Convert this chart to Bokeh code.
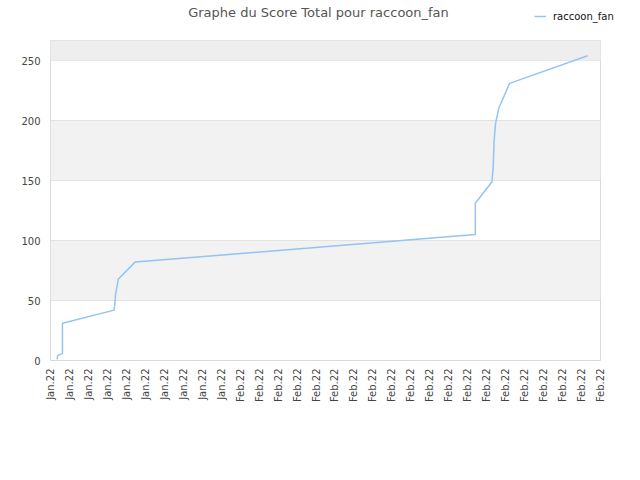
import pandas as pd
from bokeh.plotting import figure
from bokeh.layouts import column
from bokeh.models import (Range1d, FixedTicker, DatetimeTickFormatter, Label,
                          Legend, LegendItem, BoxAnnotation, ColumnDataSource)
from bokeh.embed import file_html
from bokeh.resources import INLINE

# ---- data ----
title_text = "Graphe du Score Total pour raccoon_fan"
series_name = "raccoon_fan"
times = [
    "2022-01-22 08:24", "2022-01-22 09:07", "2022-01-22 15:07", "2022-01-22 15:07",
    "2022-01-25 08:38", "2022-01-25 10:19", "2022-01-25 13:55", "2022-01-26 11:02",
    "2022-02-13 09:36", "2022-02-13 09:36", "2022-02-14 06:43", "2022-02-14 08:10",
    "2022-02-14 09:22", "2022-02-14 11:02", "2022-02-14 15:07", "2022-02-15 05:02",
    "2022-02-19 07:41",
]
scores = [1, 4, 6, 31, 42, 55, 68, 82, 105, 131, 149, 161, 183, 197, 210, 231, 254]
y_ticks = [0, 50, 100, 150, 200, 250]
x_start = "2022-01-22"
x_end = "2022-02-20"
y_max = 266.7

LINE_COLOR = "#92c4f4"
HEAD_H = 40

x_tick_dates = pd.date_range(x_start, x_end, freq="D")
x_ticks = [int(d.value // 10**6) for d in x_tick_dates]

src = ColumnDataSource(dict(t=pd.to_datetime(times), s=scores))

# ---- header (title + legend) ----
head = figure(width=640, height=HEAD_H, output_backend="svg", toolbar_location=None,
              x_range=Range1d(0, 1), y_range=Range1d(0, 1),
              x_axis_location=None, y_axis_location=None,
              min_border_left=0, min_border_right=0, min_border_top=0,
              min_border_bottom=0)
head.outline_line_color = None
head.xgrid.visible = False
head.ygrid.visible = False
head.add_layout(Label(x=268, y=28, x_units="screen", y_units="screen", text=title_text,
                      text_align="center", text_baseline="middle",
                      text_font="DejaVu Sans", text_font_size="13px",
                      text_color="#555555"))
# legend swatch renderer: same series style, drawn off-screen in the header
legend_src = ColumnDataSource(dict(t=[5, 6], s=[5, 6]))
swatch = head.line("t", "s", source=legend_src, line_color=LINE_COLOR, line_width=1.5)
legend = Legend(items=[LegendItem(label=series_name, renderers=[swatch])],
                location=(484, 18), orientation="horizontal",
                glyph_width=12, glyph_height=12, label_height=12,
                label_standoff=7, padding=0, margin=0, spacing=0,
                border_line_color=None, background_fill_alpha=0,
                label_text_font="DejaVu Sans", label_text_font_size="10px",
                label_text_color="#111111")
head.add_layout(legend)

# ---- main chart ----
p = figure(width=624, height=424, output_backend="svg", toolbar_location=None,
           x_axis_type="datetime",
           x_range=Range1d(pd.Timestamp(x_start), pd.Timestamp(x_end)),
           y_range=Range1d(0, y_max),
           min_border_left=50, min_border_right=24, min_border_top=0,
           min_border_bottom=104)
p.background_fill_color = "white"
p.border_fill_color = "white"
p.outline_line_color = "#d9d9d9"

p.add_layout(BoxAnnotation(bottom=y_ticks[-1], fill_color="#eeeeee", fill_alpha=1,
                           line_color=None, level="underlay"))

p.xgrid.grid_line_color = None
p.ygrid.grid_line_color = "#e2e2e2"
p.ygrid.band_fill_color = "#f2f2f2"
p.ygrid.band_fill_alpha = 1
p.ygrid.ticker = FixedTicker(ticks=y_ticks)

p.line("t", "s", source=src, line_color=LINE_COLOR, line_width=1.5)

fmt = "%b.%y"
p.xaxis.formatter = DatetimeTickFormatter(
    microseconds=fmt, milliseconds=fmt, seconds=fmt, minsec=fmt, minutes=fmt,
    hourmin=fmt, hours=fmt, days=fmt, months=fmt, years=fmt)
p.xaxis.ticker = FixedTicker(ticks=x_ticks)
p.xaxis.major_label_orientation = 3.14159265 / 2
p.yaxis.ticker = FixedTicker(ticks=y_ticks)

for ax in (p.xaxis, p.yaxis):
    ax.axis_line_color = None
    ax.major_tick_line_color = None
    ax.minor_tick_line_color = None
    ax.major_tick_out = 0
    ax.major_tick_in = 0
    ax.major_label_text_font = "DejaVu Sans"
    ax.major_label_text_font_size = "10px"
    ax.major_label_text_color = "#444444"
p.xaxis.major_label_standoff = 8
p.yaxis.major_label_standoff = 10

layout = column(head, p, spacing=0)
open("out.html", "w").write(file_html(layout, INLINE))
